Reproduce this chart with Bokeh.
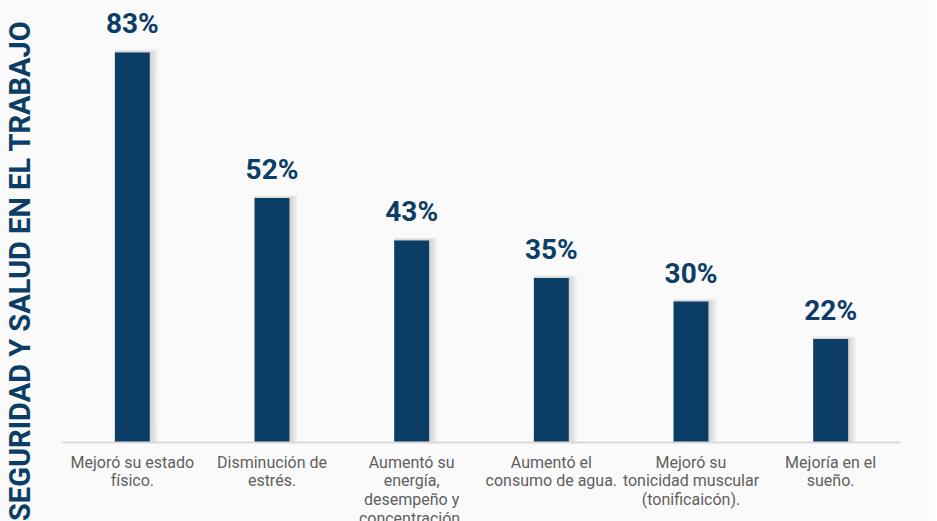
from bokeh.plotting import figure
from bokeh.models import ColumnDataSource, LabelSet, Label
from bokeh.core.properties import value
from bokeh.embed import file_html
from bokeh.resources import INLINE

categories = ["Mejoró su estado físico.", "Disminución de estrés.",
              "Aumentó su energía, desempeño y concentración.",
              "Aumentó el consumo de agua.",
              "Mejoró su tonicidad muscular (tonificaicón).",
              "Mejoría en el sueño."]
cat_lines = [["Mejoró su estado", "físico."],
             ["Disminución de", "estrés."],
             ["Aumentó su", "energía,", "desempeño y", "concentración."],
             ["Aumentó el", "consumo de agua."],
             ["Mejoró su", "tonicidad muscular", "(tonificaicón)."],
             ["Mejoría en el", "sueño."]]
values = [83, 52, 43, 35, 30, 22]
value_labels = ["83%", "52%", "43%", "35%", "30%", "22%"]
title_text = "SEGURIDAD Y SALUD EN EL TRABAJO"

NAVY = "#0c3d66"
BG = "#fafafa"
GRAY_TXT = "#5f5f5f"

W, H = 929, 521
n = len(categories)
xpos = [i + 0.5 for i in range(n)]

# layout in pixels -> ranges
px_per_cat = (900 - 62) / n
x_start = -62 / px_per_cat
x_end = n + (W - 900) / px_per_cat
px_per_pct = 4.70
base_px = 442
y_start = -(H - base_px) / px_per_pct
y_end = base_px / px_per_pct

src = ColumnDataSource(dict(x=xpos, val=values, lab=value_labels))

p = figure(width=W, height=H, x_range=(x_start, x_end), y_range=(y_start, y_end),
           output_backend="svg", toolbar_location=None,
           x_axis_location=None, y_axis_location=None,
           min_border=0, min_border_left=0, min_border_right=0,
           min_border_top=0, min_border_bottom=0)
p.background_fill_color = BG
p.border_fill_color = BG
p.outline_line_color = None
p.grid.visible = False

# soft shadow
for k in range(1, 6):
    p.vbar(x=[v + 0.006 * k for v in xpos], top=[v + 0.12 * k for v in values],
           bottom=0, width=0.25 + 0.012 * k, fill_color="#000000",
           fill_alpha=0.03, line_color=None)

p.vbar(x="x", top="val", bottom=0, width=0.25, source=src,
       fill_color=NAVY, line_color=None)

# baseline
p.segment(x0=[0], y0=[0], x1=[n], y1=[0], line_color="#d9d9d9", line_width=2)

vl = LabelSet(x="x", y="val", text="lab", source=src, y_offset=19,
              text_align="center", text_baseline="alphabetic",
              text_font=value("Roboto"), text_font_style="bold",
              text_font_size="28px", text_color=NAVY)
p.add_layout(vl)

# category labels, one row per line
lx, ly, lt = [], [], []
first_baseline = 467.0
line_step = 18.8
for i, lines in enumerate(cat_lines):
    for j, s in enumerate(lines):
        lx.append(xpos[i])
        ly.append(H - (first_baseline + j * line_step))
        lt.append(s)
csrc = ColumnDataSource(dict(x=lx, y=ly, t=lt))
cl = LabelSet(x="x", y="y", y_units="screen", text="t", source=csrc,
              text_align="center", text_baseline="alphabetic",
              text_font=value("Roboto"), text_font_size="16px",
              text_color=GRAY_TXT)
p.add_layout(cl)

t = Label(x=27, y=H - 20, x_units="screen", y_units="screen", text=title_text,
          angle=90, angle_units="deg", text_align="right",
          text_baseline="alphabetic", text_font="Roboto",
          text_font_style="bold", text_font_size="29px", text_color=NAVY,
          x_offset=-8)
p.add_layout(t)

open("out.html", "w").write(file_html(p, INLINE))
